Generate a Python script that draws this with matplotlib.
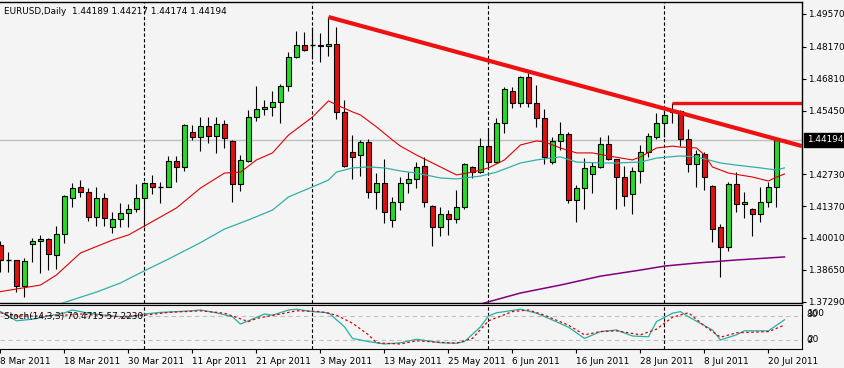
import pandas as pd
import matplotlib
matplotlib.use("Agg")
import matplotlib.pyplot as plt

# one bar per trading day, 8 Mar 2011 .. 22 Jul 2011
dates = pd.bdate_range("2011-03-08", "2011-07-22")

opens = [1.3971, 1.3907, 1.3907, 1.3796, 1.3975, 1.3988, 1.3997, 1.3928, 1.4018, 1.4172,
         1.4219, 1.4197, 1.4090, 1.4172, 1.4048, 1.4082, 1.4108, 1.4125, 1.4172, 1.4236,
         1.4219, 1.4219, 1.4329, 1.4304, 1.4453, 1.4432, 1.4479, 1.4436, 1.4487, 1.4415,
         1.4231, 1.4329, 1.4517, 1.4551, 1.4560, 1.4581, 1.4650, 1.4773, 1.4825, 1.4824,
         1.4825, 1.4820, 1.4829, 1.4539, 1.4368, 1.4355, 1.4411, 1.4197, 1.4236, 1.4078,
         1.4155, 1.4236, 1.4253, 1.4308, 1.4138, 1.4048, 1.4103, 1.4082, 1.4133, 1.4304,
         1.4282, 1.4393, 1.4325, 1.4492, 1.4628, 1.4577, 1.4688, 1.4577, 1.4513, 1.4325,
         1.4415, 1.4445, 1.4163, 1.4214, 1.4274, 1.4304, 1.4402, 1.4338, 1.4261, 1.4189,
         1.4287, 1.4368, 1.4432, 1.4492, 1.4543, 1.4543, 1.4423, 1.4317, 1.4359, 1.4223,
         1.4048, 1.3962, 1.4231, 1.4146, 1.4125, 1.4103, 1.4155, 1.4219, 1.44189]
highs = [1.3988, 1.3941, 1.3909, 1.3915, 1.4001, 1.4014, 1.4001, 1.4052, 1.4184, 1.4236,
         1.4248, 1.4214, 1.4219, 1.4193, 1.4112, 1.4151, 1.4146, 1.4231, 1.4238, 1.4270,
         1.4240, 1.4351, 1.4351, 1.4487, 1.4483, 1.4517, 1.4517, 1.4517, 1.4504, 1.4419,
         1.4355, 1.4547, 1.4650, 1.4590, 1.4628, 1.4658, 1.4795, 1.4884, 1.4880, 1.4901,
         1.4876, 1.4944, 1.4901, 1.4590, 1.4440, 1.4419, 1.4423, 1.4278, 1.4338, 1.4176,
         1.4261, 1.4282, 1.4325, 1.4347, 1.4142, 1.4133, 1.4120, 1.4206, 1.4321, 1.4306,
         1.4428, 1.4470, 1.4513, 1.4645, 1.4645, 1.4692, 1.4705, 1.4654, 1.4551, 1.4432,
         1.4496, 1.4453, 1.4227, 1.4342, 1.4325, 1.4432, 1.4440, 1.4340, 1.4308, 1.4304,
         1.4398, 1.4449, 1.4534, 1.4547, 1.4577, 1.4547, 1.4466, 1.4376, 1.4368, 1.4227,
         1.4061, 1.4240, 1.4282, 1.4197, 1.4129, 1.4219, 1.4240, 1.4432, 1.44217]
lows = [1.3856, 1.3856, 1.3770, 1.3749, 1.3898, 1.3851, 1.3864, 1.3869, 1.3980, 1.4133,
        1.4176, 1.4073, 1.4052, 1.4052, 1.4022, 1.4048, 1.4048, 1.4112, 1.4048, 1.4189,
        1.4151, 1.4217, 1.4240, 1.4287, 1.4419, 1.4372, 1.4406, 1.4364, 1.4385, 1.4155,
        1.4202, 1.4325, 1.4500, 1.4526, 1.4522, 1.4492, 1.4628, 1.4771, 1.4801, 1.4765,
        1.4752, 1.4778, 1.4509, 1.4304, 1.4253, 1.4265, 1.4172, 1.4125, 1.4065, 1.4048,
        1.4120, 1.4193, 1.4214, 1.4133, 1.3967, 1.4009, 1.4014, 1.4065, 1.4125, 1.4257,
        1.4280, 1.4304, 1.4321, 1.4449, 1.4556, 1.4560, 1.4560, 1.4475, 1.4317, 1.4317,
        1.4376, 1.4151, 1.4069, 1.4125, 1.4193, 1.4300, 1.4334, 1.4125, 1.4138, 1.4103,
        1.4236, 1.4347, 1.4423, 1.4432, 1.4492, 1.4393, 1.4282, 1.4219, 1.4206, 1.3984,
        1.3835, 1.3945, 1.4112, 1.4086, 1.4009, 1.4069, 1.4133, 1.4133, 1.44174]
closes = [1.3907, 1.3908, 1.3796, 1.3903, 1.3988, 1.3997, 1.3933, 1.4018, 1.4180, 1.4214,
          1.4197, 1.4090, 1.4172, 1.4086, 1.4082, 1.4108, 1.4125, 1.4172, 1.4236, 1.4219,
          1.4220, 1.4329, 1.4304, 1.4483, 1.4432, 1.4479, 1.4436, 1.4487, 1.4428, 1.4231,
          1.4334, 1.4517, 1.4551, 1.4560, 1.4581, 1.4650, 1.4773, 1.4825, 1.4803, 1.4825,
          1.4820, 1.4829, 1.4539, 1.4308, 1.4347, 1.4411, 1.4197, 1.4236, 1.4112, 1.4155,
          1.4236, 1.4253, 1.4304, 1.4155, 1.4048, 1.4103, 1.4082, 1.4133, 1.4317, 1.4282,
          1.4393, 1.4325, 1.4492, 1.4637, 1.4577, 1.4688, 1.4577, 1.4513, 1.4347, 1.4415,
          1.4445, 1.4163, 1.4214, 1.4300, 1.4308, 1.4402, 1.4338, 1.4261, 1.4180, 1.4287,
          1.4368, 1.4436, 1.4492, 1.4526, 1.4539, 1.4423, 1.4317, 1.4359, 1.4261, 1.4039,
          1.3962, 1.4231, 1.4146, 1.4155, 1.4103, 1.4155, 1.4219, 1.4419, 1.44194]

# moving averages (bar index, price)
ma_red_idx = [0, 5, 7, 10, 14, 16, 18, 22, 25, 28, 30, 32, 34, 36, 39, 41, 42, 44, 45, 47,
              49, 50, 52, 55, 57, 59, 61, 63, 65, 67, 68, 70, 72, 74, 76, 79, 80, 82, 84, 85,
              87, 88, 89, 91, 94, 96, 97, 98]
ma_red = [1.3772, 1.3800, 1.3843, 1.3937, 1.3992, 1.4014, 1.4052, 1.4129, 1.4214, 1.4278,
          1.4282, 1.4334, 1.4364, 1.4440, 1.4517, 1.4586, 1.4569, 1.4539, 1.4526, 1.4475,
          1.4419, 1.4393, 1.4355, 1.4304, 1.4270, 1.4282, 1.4300, 1.4334, 1.4398, 1.4415,
          1.4411, 1.4385, 1.4364, 1.4364, 1.4351, 1.4334, 1.4347, 1.4385, 1.4393, 1.4389,
          1.4385, 1.4355, 1.4304, 1.4278, 1.4261, 1.4244, 1.4261, 1.4274]
ma_teal_idx = [7, 12, 15, 18, 21, 25, 28, 31, 34, 36, 39, 41, 42, 44, 46, 48, 50, 52, 55, 57,
               60, 62, 65, 67, 70, 72, 75, 77, 80, 82, 85, 87, 90, 92, 95, 97, 98]
ma_teal = [1.3715, 1.3770, 1.3809, 1.3861, 1.3911, 1.3981, 1.4039, 1.4078, 1.4120, 1.4176,
           1.4219, 1.4248, 1.4282, 1.4300, 1.4304, 1.4300, 1.4287, 1.4278, 1.4257, 1.4253,
           1.4265, 1.4282, 1.4321, 1.4334, 1.4347, 1.4325, 1.4321, 1.4321, 1.4325, 1.4342,
           1.4351, 1.4347, 1.4321, 1.4312, 1.4300, 1.4291, 1.4300]
ma_purple_idx = [60, 65, 70, 75, 80, 83, 87, 92, 98]
ma_purple = [1.3719, 1.3766, 1.3800, 1.3838, 1.3864, 1.3881, 1.3894, 1.3907, 1.3920]

# trend line anchors and horizontal resistance
trend_idx = [41, 100.2]
trend_px = [1.4944, 1.4393]
resist_idx = 84
resist_px = 1.4577

# stochastic (14,3,3)
stoch_k_idx = [0, 2, 4, 6, 8, 9, 11, 14, 16, 18, 20, 24, 25, 27, 29, 30, 31, 33, 34, 36,
               37, 39, 41, 43, 44, 46, 48, 50, 52, 55, 57, 58, 60, 61, 62, 65, 67, 69, 71, 73,
               75, 77, 79, 81, 82, 84, 85, 86, 89, 90, 92, 93, 96, 98]
stoch_k = [91, 68, 72, 80, 88, 95, 87, 80, 77, 85, 89, 93, 95, 88, 78, 60, 68, 85, 82, 95,
           97, 91, 88, 53, 24, 16, 10, 13, 22, 13, 12, 16, 53, 80, 88, 97, 87, 70, 52, 24,
           41, 45, 30, 28, 66, 87, 91, 78, 45, 20, 33, 43, 43, 70.47]
stoch_d_idx = [0, 2, 5, 8, 10, 12, 15, 18, 21, 25, 28, 31, 32, 35, 37, 40, 42, 44, 46, 47,
               50, 52, 56, 57, 59, 61, 64, 66, 68, 71, 73, 75, 77, 80, 82, 84, 86, 88, 90, 92,
               96, 98]
stoch_d = [88, 80, 80, 82, 85, 82, 78, 82, 89, 93, 87, 66, 74, 85, 93, 91, 82, 62, 33, 13,
           10, 18, 13, 12, 24, 68, 91, 95, 82, 57, 33, 41, 43, 33, 47, 77, 88, 55, 27, 38,
           41, 57.22]

price_ticks = [1.49570, 1.48170, 1.46810, 1.45450, 1.42730, 1.41370, 1.40010, 1.38650, 1.37290]
separators = [18, 39, 61, 83]

BG = "#f4f4f4"
BULL = "#22dd22"
BEAR = "#e01010"
FONT = "DejaVu Sans"
FS = 6.4


def draw_candles(ax):
	for i in range(len(dates)):
		o, h, l, c = opens[i], highs[i], lows[i], closes[i]
		ax.vlines(i, l, h, color="black", lw=0.8, zorder=3)
		if abs(c - o) < 0.0002:
			ax.hlines(c, i - 0.3, i + 0.3, color="black", lw=1.0, zorder=4)
		else:
			col = BULL if c > o else BEAR
			ax.bar(i, abs(c - o), bottom=min(o, c), width=0.55, color=col,
				   edgecolor="black", linewidth=0.8, zorder=4)


def main() -> None:
	plt.rcParams["font.family"] = FONT
	fig = plt.figure(figsize=(8.44, 3.68), dpi=100, facecolor=BG)
	W, H = 844.0, 368.0
	ax = fig.add_axes([0, 65 / H, 802 / W, 301 / H], facecolor=BG)
	ax2 = fig.add_axes([0, 19 / H, 802 / W, 44 / H], facecolor=BG)

	n = len(dates)
	xlim = (-0.06, 100.19)

	# main price panel
	ax.axhline(closes[-1], color="#c0c0c0", lw=1.0, zorder=1)
	for s in separators:
		ax.axvline(s, color="black", lw=0.8, ls=(0, (3, 2)), zorder=2)
		ax2.axvline(s, color="black", lw=0.8, ls=(0, (3, 2)), zorder=2)
	draw_candles(ax)
	ax.plot(ma_purple_idx, ma_purple, color="#800080", lw=1.1, zorder=5)
	ax.plot(ma_teal_idx, ma_teal, color="#30b0a8", lw=0.9, zorder=5)
	ax.plot(ma_red_idx, ma_red, color="#e00000", lw=0.8, zorder=5)
	ax.plot(trend_idx, trend_px, color="#ee1111", lw=3.0, zorder=6, solid_capstyle="butt")
	ax.plot([resist_idx, xlim[1]], [resist_px, resist_px], color="#ee1111", lw=2.4, zorder=6,
			solid_capstyle="butt")

	ax.set_xlim(*xlim)
	ax.set_ylim(1.37234, 1.50081)
	ax.set_xticks([])
	ax.yaxis.tick_right()
	ax.set_yticks(price_ticks)
	ax.set_yticklabels(["%.5f" % v for v in price_ticks])
	ax.tick_params(axis="y", direction="out", length=3, width=0.8, pad=1.5,
				   labelsize=FS, colors="black")
	ax.spines["left"].set_visible(False)
	for sp in ["top", "right", "bottom"]:
		ax.spines[sp].set_linewidth(1.0)

	ax.annotate("%.5f" % closes[-1], xy=(1.0, closes[-1]),
				xycoords=("axes fraction", "data"), xytext=(3.5, 0),
				textcoords="offset points", ha="left", va="center", fontsize=FS,
				color="white", zorder=10, annotation_clip=False,
				bbox=dict(boxstyle="square,pad=0.3", fc="black", ec="black"))

	fig.text(4 / W, 1 - 11 / H, "EURUSD,Daily  %.5f %.5f %.5f %.5f"
			 % (opens[-1], highs[-1], lows[-1], closes[-1]),
			 fontsize=FS, va="center", ha="left")

	# stochastic panel
	ax2.axhline(80, color="#c0c0c0", lw=0.8, ls=(0, (4, 3)), zorder=1)
	ax2.axhline(20, color="#c0c0c0", lw=0.8, ls=(0, (4, 3)), zorder=1)
	ax2.plot(stoch_k_idx, stoch_k, color="#20b2aa", lw=0.9, zorder=4)
	ax2.plot(stoch_d_idx, stoch_d, color="#e00000", lw=0.9, ls=(0, (2, 2)), zorder=4)
	ax2.set_xlim(*xlim)
	ax2.set_ylim(-2.5, 107.5)
	ax2.set_yticks([])
	ax2.spines["left"].set_visible(False)

	for lbl, val in [("100", 86), ("80", 83), ("20", 21), ("0", 18)]:
		ax2.annotate(lbl, xy=(1.0, val), xycoords=("axes fraction", "data"),
					 xytext=(3.5, 0), textcoords="offset points", ha="left",
					 va="center", fontsize=FS, annotation_clip=False)

	fig.text(4 / W, 1 - 316 / H, "Stoch(14,3,3) %.4f %.4f" % (70.4715, 57.2230),
			 fontsize=FS, va="center", ha="left")

	tick_idx = list(range(0, n, 8))
	ax2.set_xticks(tick_idx)
	ax2.set_xticklabels([dates[i].strftime("%-d %b %Y") for i in tick_idx])
	for lbl in ax2.get_xticklabels():
		lbl.set_ha("left")
	ax2.tick_params(axis="x", direction="out", length=3, width=0.8, pad=2.5,
					labelsize=FS, colors="black")

	fig.savefig("out.png", dpi=100, facecolor=BG)


if __name__ == '__main__':
	main()
